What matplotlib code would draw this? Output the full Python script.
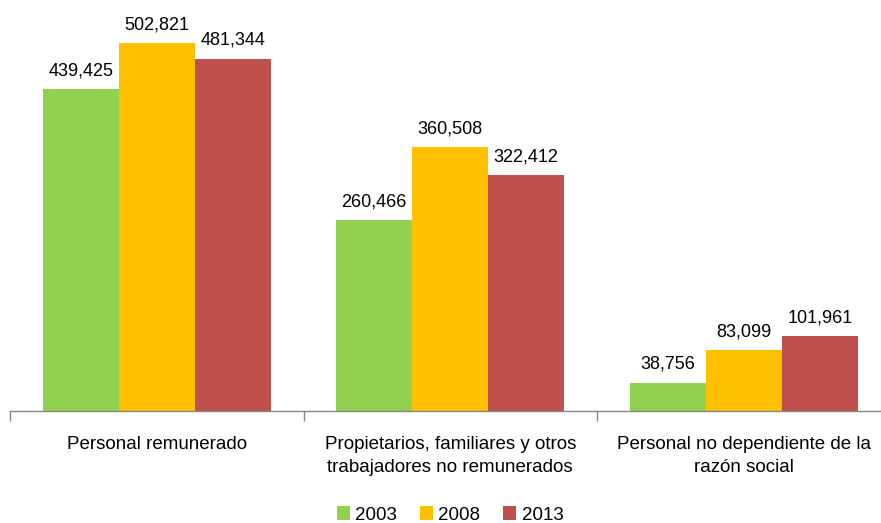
import matplotlib
matplotlib.use("Agg")
import matplotlib.pyplot as plt
import numpy as np

plt.rcParams['font.family'] = ['Liberation Sans', 'DejaVu Sans']

categories = ["Personal remunerado",
              "Propietarios, familiares y otros\ntrabajadores no remunerados",
              "Personal no dependiente de la\nrazón social"]
years = ["2003", "2008", "2013"]
v2003 = [439425, 260466, 38756]
v2008 = [502821, 360508, 83099]
v2013 = [481344, 322412, 101961]
colors = ["#92D050", "#FFC000", "#C0504D"]

W, H = 881, 523
fig = plt.figure(figsize=(W/100, H/100), dpi=100)
left = 10/W
right = 890.5/W
bottom = 1 - 411/H
ax = fig.add_axes([left, bottom, right-left, 1-bottom])

x = np.arange(len(categories))
bw = 76/293.5
series = [v2003, v2008, v2013]
for i, (vals, c, yr) in enumerate(zip(series, colors, years)):
    xs = x + (i-1)*bw
    ax.bar(xs, vals, width=bw, color=c, label=yr, edgecolor='none')
    for xx, v in zip(xs, vals):
        ax.annotate(f"{v:,}", (xx, v), xytext=(0, 7), textcoords='offset points',
                    ha='center', va='bottom', fontsize=13, color='#000000')

ax.set_xlim(-0.5, 2.5)
ax.set_ylim(0, 411/0.000732)
ax.set_yticks([])
for s in ['top', 'right', 'left']:
    ax.spines[s].set_visible(False)
ax.spines['bottom'].set_color('#868686')
ax.spines['bottom'].set_linewidth(1.0)
ax.set_xticks([-0.5, 0.5, 1.5, 2.5])
ax.set_xticklabels([])
ax.tick_params(axis='x', length=7, color='#868686', width=1.0, direction='out')
for xi, cat in zip(x, categories):
    ax.text(xi, -0.062, cat, transform=ax.get_xaxis_transform(), ha='center', va='top',
            fontsize=13.5, linespacing=1.45)

handles, labels = ax.get_legend_handles_labels()
fig.legend(handles, labels, loc='center', bbox_to_anchor=(450/W, 1-515/H), ncol=3,
           frameon=False, fontsize=13.5, handlelength=0.7, handleheight=0.7,
           handletextpad=0.3, columnspacing=1.2)

fig.savefig("out.png", dpi=100)
